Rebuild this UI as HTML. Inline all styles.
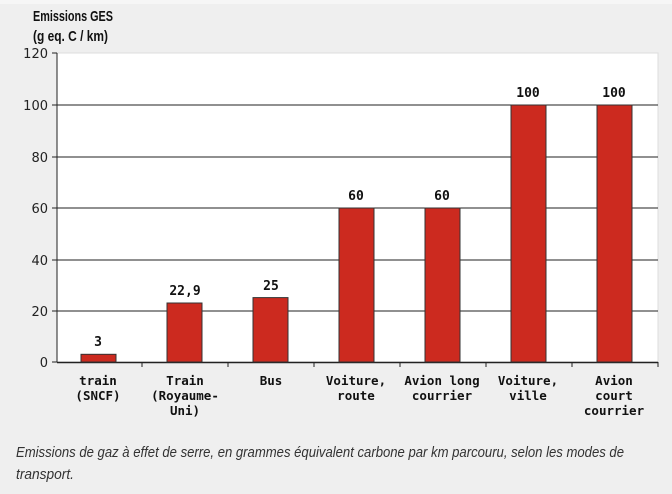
<!DOCTYPE html><html><head><style>body{margin:0;background:#efefef;}</style></head><body>
<svg width="672" height="494" xmlns="http://www.w3.org/2000/svg" style="display:block">
<rect width="672" height="494" fill="#efefef"/>
<rect x="0" y="0" width="672" height="4" fill="#f6f6f6"/>
<rect x="57" y="53" width="601" height="309" fill="#fff" stroke="#ddd"/>
<g font-family="Liberation Sans, sans-serif" font-weight="bold" font-size="15" fill="#111">
<text x="33" y="21" textLength="80" lengthAdjust="spacingAndGlyphs">Emissions GES</text>
<text x="33" y="41" textLength="75" lengthAdjust="spacingAndGlyphs">(g eq. C / km)</text>
</g>
<g stroke="#222" stroke-width="1">
<line x1="57" y1="105" x2="658" y2="105"/><line x1="57" y1="157" x2="658" y2="157"/>
<line x1="57" y1="208" x2="658" y2="208"/><line x1="57" y1="260" x2="658" y2="260"/>
<line x1="57" y1="311" x2="658" y2="311"/>
<line x1="57" y1="53" x2="57" y2="362"/><line x1="57" y1="362.5" x2="658" y2="362.5" stroke-width="1.5"/>
<line x1="52" y1="53" x2="57" y2="53"/><line x1="52" y1="105" x2="57" y2="105"/><line x1="52" y1="157" x2="57" y2="157"/><line x1="52" y1="208" x2="57" y2="208"/><line x1="52" y1="260" x2="57" y2="260"/><line x1="52" y1="311" x2="57" y2="311"/><line x1="52" y1="362" x2="57" y2="362"/>
<line x1="142" y1="362" x2="142" y2="367"/><line x1="228" y1="362" x2="228" y2="367"/><line x1="314" y1="362" x2="314" y2="367"/><line x1="400" y1="362" x2="400" y2="367"/><line x1="486" y1="362" x2="486" y2="367"/><line x1="572" y1="362" x2="572" y2="367"/><line x1="658" y1="362" x2="658" y2="367"/>
</g>
<g font-family="DejaVu Sans, sans-serif" font-size="13" fill="#222" text-anchor="end">
<text x="48" y="58">120</text><text x="48" y="110">100</text><text x="48" y="162">80</text><text x="48" y="213">60</text><text x="48" y="265">40</text><text x="48" y="316">20</text><text x="48" y="367">0</text>
</g>
<g fill="#cc2a1f" stroke="#333" stroke-width="1">
<rect x="81" y="354.3" width="35" height="7.7"/>
<rect x="167" y="303" width="35" height="59"/>
<rect x="253" y="297.6" width="35" height="64.4"/>
<rect x="339" y="208" width="35" height="154"/>
<rect x="425" y="208" width="35" height="154"/>
<rect x="511" y="105" width="35" height="257"/>
<rect x="597" y="105" width="35" height="257"/>
</g>
<g font-family="DejaVu Sans Mono, monospace" font-weight="bold" font-size="13" fill="#111" text-anchor="middle">
<text x="98" y="346">3</text><text x="185" y="295">22,9</text><text x="271" y="290">25</text>
<text x="356" y="200">60</text><text x="442" y="200">60</text><text x="528" y="97">100</text><text x="614" y="97">100</text>
</g>
<g font-family="DejaVu Sans Mono, monospace" font-weight="bold" font-size="12.5" fill="#111" text-anchor="middle">
<text x="98" y="385">train</text><text x="98" y="400">(SNCF)</text>
<text x="185" y="385">Train</text><text x="185" y="400">(Royaume-</text><text x="185" y="415">Uni)</text>
<text x="271" y="385">Bus</text>
<text x="356" y="385">Voiture,</text><text x="356" y="400">route</text>
<text x="442" y="385">Avion long</text><text x="442" y="400">courrier</text>
<text x="528" y="385">Voiture,</text><text x="528" y="400">ville</text>
<text x="614" y="385">Avion</text><text x="614" y="400">court</text><text x="614" y="415">courrier</text>
</g>
<g font-family="Liberation Sans, sans-serif" font-style="italic" font-size="15" fill="#333">
<text x="16" y="457" textLength="608" lengthAdjust="spacingAndGlyphs">Emissions de gaz à effet de serre, en grammes équivalent carbone par km parcouru, selon les modes de</text>
<text x="16" y="479" textLength="58" lengthAdjust="spacingAndGlyphs">transport.</text>
</g>
</svg>
</body></html>
